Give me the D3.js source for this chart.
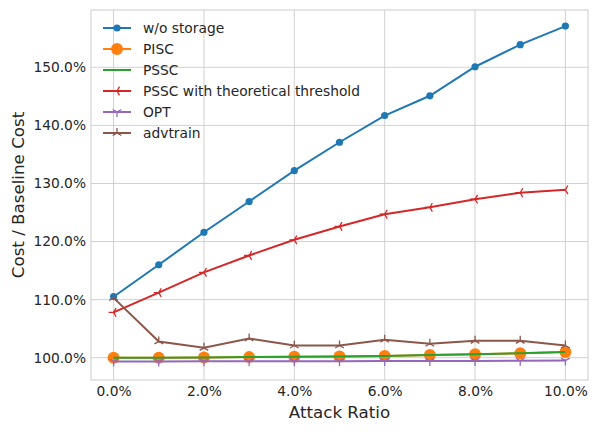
<!DOCTYPE html>
<html><head><meta charset="utf-8">
<script src="https://cdn.jsdelivr.net/npm/d3@7"></script>
<style>body{margin:0;background:#fff}svg{display:block;font-family:"DejaVu Sans",sans-serif}</style>
</head><body>
<svg id="c" width="597" height="432"></svg>
<script>
const attackRatio = [0,1,2,3,4,5,6,7,8,9,10];
const xTicks = [0,2,4,6,8,10];
const yTicks = [100,110,120,130,140,150];
const woStorage = [110.5,116.0,121.6,126.9,132.2,137.1,141.7,145.1,150.1,153.9,157.1];
const pisc = [100.0,100.0,100.05,100.1,100.15,100.2,100.3,100.45,100.6,100.75,101.0];
const pssc = [100.0,100.0,100.05,100.1,100.15,100.2,100.3,100.45,100.6,100.75,101.0];
const psscTheory = [107.8,111.2,114.7,117.6,120.3,122.6,124.7,125.9,127.3,128.4,128.9];
const opt = [99.35,99.35,99.37,99.38,99.4,99.4,99.42,99.43,99.45,99.47,99.5];
const advtrain = [110.3,102.8,101.7,103.3,102.1,102.1,103.1,102.4,102.9,102.9,102.1];

const series = [
  {name:"w/o storage", values:woStorage, color:"#1f77b4", marker:"circle", size:3.6},
  {name:"PISC", values:pisc, color:"#ff7f0e", marker:"circle", size:6},
  {name:"PSSC", values:pssc, color:"#2ca02c", marker:"none"},
  {name:"PSSC with theoretical threshold", values:psscTheory, color:"#d62728", marker:"tri_left", size:5},
  {name:"OPT", values:opt, color:"#9467bd", marker:"tri_down", size:5},
  {name:"advtrain", values:advtrain, color:"#8c564b", marker:"tri_up", size:5}
];

const L=91, R=588, T=10, B=380;
const svg = d3.select("#c");
const x = d3.scaleLinear().domain([-0.5,10.5]).range([L,R]);
const y = d3.scaleLinear().domain([96.16,159.87]).range([B,T]);

// grid
const g = svg.append("g");
g.selectAll(".vg").data(xTicks).join("line")
  .attr("x1",d=>x(d)).attr("x2",d=>x(d)).attr("y1",T).attr("y2",B)
  .attr("stroke","#cccccc").attr("stroke-width",0.9);
g.selectAll(".hg").data(yTicks).join("line")
  .attr("y1",d=>y(d)).attr("y2",d=>y(d)).attr("x1",L).attr("x2",R)
  .attr("stroke","#cccccc").attr("stroke-width",0.9);

// axes (labels only)
const xAxis = d3.axisBottom(x).tickValues(xTicks).tickSize(0).tickPadding(6).tickFormat(d=>d.toFixed(1)+"%");
const yAxis = d3.axisLeft(y).tickValues(yTicks).tickSize(0).tickPadding(5).tickFormat(d=>d.toFixed(1)+"%");
const gx = svg.append("g").attr("transform",`translate(0,${B})`).call(xAxis);
const gy = svg.append("g").attr("transform",`translate(${L},0)`).call(yAxis);
[gx,gy].forEach(a=>{a.select(".domain").remove();a.selectAll("text").attr("font-size",13.8).attr("fill","#262626").attr("font-family","DejaVu Sans");});

// frame
svg.append("rect").attr("x",L).attr("y",T).attr("width",R-L).attr("height",B-T)
  .attr("fill","none").attr("stroke","#cccccc").attr("stroke-width",1);

function markerPath(type,s){
  if(type==="tri_left") return `M0,0L${-s},0M0,0L${s*0.5},${-s*0.866}M0,0L${s*0.5},${s*0.866}`;
  if(type==="tri_down") return `M0,0L0,${s}M0,0L${-s*0.866},${-s*0.5}M0,0L${s*0.866},${-s*0.5}`;
  if(type==="tri_up") return `M0,0L0,${-s}M0,0L${-s*0.866},${s*0.5}M0,0L${s*0.866},${s*0.5}`;
  return "";
}
function drawMarker(sel,s,cx,cy){
  if(s.marker==="circle"){
    sel.append("circle").attr("cx",cx).attr("cy",cy).attr("r",s.size).attr("fill",s.color);
  } else if(s.marker!=="none"){
    sel.append("path").attr("d",markerPath(s.marker,s.size)).attr("transform",`translate(${cx},${cy})`)
      .attr("stroke",s.color).attr("stroke-width",1.3).attr("fill","none");
  }
}

const line = d3.line().x((d,i)=>x(attackRatio[i])).y(d=>y(d));
const plot = svg.append("g");
series.forEach(s=>{
  const sg = plot.append("g");
  sg.append("path").attr("d",line(s.values)).attr("fill","none").attr("stroke",s.color).attr("stroke-width",2);
  s.values.forEach((v,i)=>drawMarker(sg,s,x(attackRatio[i]),y(v)));
});

// legend
const lg = svg.append("g");
series.forEach((s,i)=>{
  const cy = 28 + i*21;
  lg.append("line").attr("x1",103).attr("x2",131).attr("y1",cy).attr("y2",cy).attr("stroke",s.color).attr("stroke-width",2);
  drawMarker(lg,s,117,cy);
  lg.append("text").attr("x",143).attr("y",cy).attr("dy","0.35em").attr("font-size",13.8).attr("fill","#262626").text(s.name);
});

// axis titles
svg.append("text").attr("x",(L+R)/2).attr("y",418).attr("text-anchor","middle").attr("font-size",16.7).attr("fill","#262626").text("Attack Ratio");
svg.append("text").attr("transform",`translate(24,${(T+B)/2}) rotate(-90)`).attr("text-anchor","middle").attr("font-size",16.7).attr("fill","#262626").text("Cost / Baseline Cost");
</script>
</body></html>
